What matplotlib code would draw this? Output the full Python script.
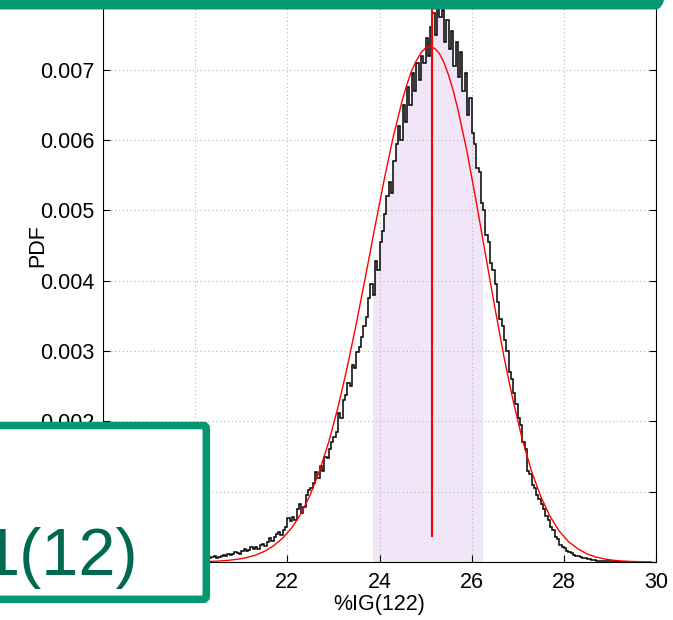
import numpy as np
import matplotlib
matplotlib.use('Agg')
import matplotlib.pyplot as plt
from matplotlib.patches import FancyBboxPatch
from matplotlib.ticker import FormatStrFormatter

plt.rcParams['font.family'] = ['Liberation Sans', 'DejaVu Sans']

# histogram of %IG(122): bin heights in units of 1e-3, bins of 0.05 from 19.5
bin_start = 19.5
bin_width = 0.05
hist_vals = [
    0.02, 0.01, 0.03, 0.02, 0.02, 0.03, 0.04, 0.03, 0.03, 0.04,
    0.05, 0.04, 0.04, 0.05, 0.06, 0.05, 0.05, 0.07, 0.08, 0.06,
    0.07, 0.09, 0.10, 0.08, 0.12, 0.10, 0.11, 0.14, 0.13, 0.12,
    0.16, 0.18, 0.15, 0.17, 0.22, 0.19, 0.21, 0.19, 0.24, 0.25,
    0.23, 0.28, 0.34, 0.30, 0.36, 0.40, 0.43, 0.38, 0.45, 0.50,
    0.62, 0.58, 0.64, 0.60, 0.75, 0.82, 0.70, 0.78, 0.95, 1.02,
    1.05, 1.12, 1.28, 1.20, 1.36, 1.30, 1.50, 1.48, 1.60, 1.70,
    1.78, 1.85, 2.12, 2.05, 2.30, 2.38, 2.55, 2.50, 2.80, 2.76,
    2.98, 3.05, 3.20, 3.35, 3.48, 3.75, 3.95, 3.80, 4.28, 4.15,
    4.55, 4.70, 4.95, 5.20, 5.40, 5.25, 5.70, 5.95, 6.20, 6.00,
    6.50, 6.25, 6.75, 6.50, 6.95, 6.70, 7.10, 6.85, 7.20, 7.10,
    7.45, 7.20, 7.60, 7.80, 7.50, 7.95, 7.75, 7.85, 7.40, 7.70,
    7.30, 7.55, 7.05, 7.40, 6.90, 7.25, 6.70, 6.95, 6.35, 6.60,
    6.10, 5.95, 5.60, 5.55, 5.10, 5.00, 4.65, 4.55, 4.25, 4.15,
    3.95, 3.70, 3.45, 3.35, 3.15, 3.00, 2.70, 2.60, 2.40, 2.25,
    2.05, 1.95, 1.70, 1.60, 1.30, 1.25, 1.10, 1.05, 0.95, 0.90,
    0.82, 0.76, 0.66, 0.60, 0.50, 0.46, 0.36, 0.32, 0.24, 0.22,
    0.20, 0.16, 0.14, 0.13, 0.10, 0.09, 0.08, 0.07, 0.06, 0.05,
    0.04, 0.04, 0.03, 0.03, 0.02, 0.02, 0.02, 0.01, 0.01, 0.01,
    0.01, 0.01, 0.00, 0.01, 0.00, 0.00, 0.00, 0.00, 0.00, 0.00,
]

# fitted density, same units
fit_x = [19.5, 19.7, 19.9, 20.1, 20.3, 20.5, 20.7, 20.9, 21.1, 21.3,
         21.5, 21.7, 21.9, 22.1, 22.3, 22.5, 22.7, 22.9, 23.1, 23.3,
         23.5, 23.7, 23.9, 24.1, 24.3, 24.5, 24.6, 24.7, 24.8, 24.9,
         25.0, 25.1, 25.2, 25.3, 25.4, 25.5, 25.6, 25.7, 25.9, 26.1,
         26.3, 26.5, 26.7, 26.9, 27.1, 27.3, 27.5, 27.7, 27.9, 28.1,
         28.3, 28.5, 28.7, 28.9, 29.1, 29.3, 29.5, 29.7, 29.9]
fit_y = [0.0005, 0.001, 0.002, 0.004, 0.007, 0.013, 0.022, 0.037, 0.060, 0.096,
         0.15, 0.23, 0.34, 0.49, 0.69, 0.96, 1.30, 1.71, 2.20, 2.77,
         3.40, 4.07, 4.76, 5.43, 6.05, 6.58, 6.80, 6.99, 7.13, 7.24,
         7.31, 7.33, 7.30, 7.23, 7.10, 6.92, 6.70, 6.44, 5.83, 5.12,
         4.37, 3.63, 2.92, 2.29, 1.74, 1.29, 0.93, 0.65, 0.44, 0.29,
         0.19, 0.115, 0.070, 0.041, 0.023, 0.013, 0.007, 0.004, 0.002]

mean_x = 25.14
mean_y0 = 0.37
band_lo = 23.85
band_hi = 26.25

x_ticks = [18, 20, 22, 24, 26, 28, 30]
y_ticks = [0.000, 0.001, 0.002, 0.003, 0.004, 0.005, 0.006, 0.007]
y_top = 0.009

green = '#049872'
dark_green = '#00694F'

vals = np.array(hist_vals) * 1e-3
edges = bin_start + bin_width * np.arange(len(vals) + 1)

fig = plt.figure(figsize=(6.73, 6.2), dpi=100)
ax = fig.add_axes([103 / 673, 58 / 620, 553 / 673, 633 / 620])

# shaded interval under the histogram
i0 = np.searchsorted(edges, band_lo - 1e-9)
i1 = np.searchsorted(edges, band_hi - 1e-9)
ax.stairs(vals[i0:i1], edges[i0:i1 + 1], fill=True, color='#F1E5F8',
          baseline=0, zorder=1)

ax.stairs(vals, edges, baseline=None, color='k', lw=1.1, zorder=3)
ax.plot(fit_x, np.array(fit_y) * 1e-3, color='#FF0000', lw=1.0, zorder=4)
ax.plot([mean_x, mean_x], [mean_y0 * 1e-3, y_top], color='#FF0000',
        lw=1.5, zorder=5)

ax.set_xlim(x_ticks[0], x_ticks[-1])
ax.set_ylim(y_ticks[0], y_top)
ax.set_xticks(x_ticks)
ax.set_yticks(y_ticks)
ax.yaxis.set_major_formatter(FormatStrFormatter('%.3f'))
ax.grid(True, color='0.72', ls=(0, (1, 2.5)), lw=0.8)
ax.tick_params(direction='in', top=True, right=True, length=5, width=0.8,
               labelsize=15.5)
ax.tick_params(axis='x', pad=7)
ax.tick_params(axis='y', pad=6)
for s in ax.spines.values():
    s.set_linewidth(0.8)
ax.set_xlabel('%IG(122)', fontsize=15.5, labelpad=1)
ax.set_ylabel('PDF', fontsize=15.5, labelpad=-6)

# frames drawn on top, in pixel units
ov = fig.add_axes([0, 0, 1, 1], zorder=5)
ov.set_xlim(0, 673)
ov.set_ylim(620, 0)
ov.axis('off')
ov.patch.set_visible(False)

top_box = FancyBboxPatch((-40, -100), 705.25, 104.75,
                         boxstyle='round,pad=0,rounding_size=10',
                         facecolor='none', edgecolor=green, lw=6.8,
                         clip_on=False)
ov.add_patch(top_box)

tag_box = FancyBboxPatch((-40, 425.5), 246.3, 173.8,
                         boxstyle='round,pad=0,rounding_size=3',
                         facecolor='white', edgecolor=green, lw=5.4,
                         clip_on=False)
ov.add_patch(tag_box)
ov.text(138, 575, '1(12)', ha='right', va='baseline', fontsize=48,
        color=dark_green, clip_on=False)

fig.savefig('out.png', dpi=100)
